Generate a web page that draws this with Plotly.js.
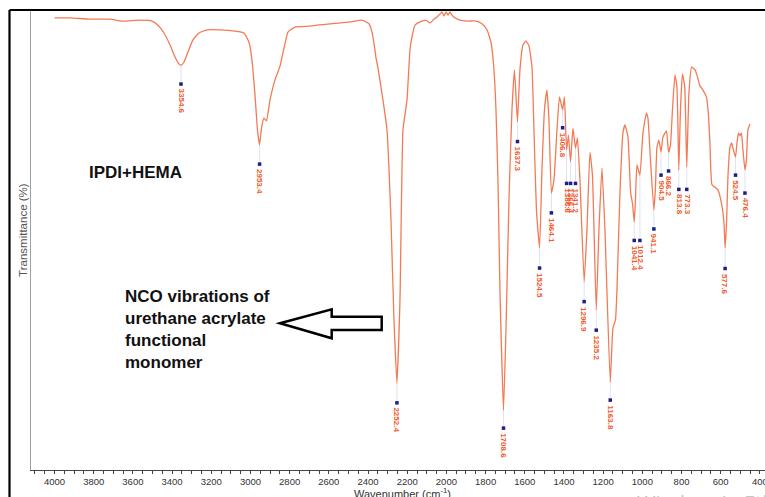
<!DOCTYPE html>
<html>
<head>
<meta charset="utf-8">
<script src="https://cdn.plot.ly/plotly-3.0.1.min.js"></script>
<style>
  html, body { margin: 0; padding: 0; background: #ffffff; }
  #chart { width: 765px; height: 497px; }
</style>
</head>
<body>
<div id="chart"></div>
<script>
// ---- Spectrum (IPDI+HEMA), wavenumber in cm-1, transmittance in % ----
const wavenumber = [4000, 3920.9, 3818.8, 3716.8, 3655.5, 3563.7, 3502.5, 3471.8, 3441.2, 3410.6,
  3385.1, 3364.7, 3354.6, 3339.2, 3318.8, 3293.2, 3262.6, 3221.8, 3155.5, 3078.9,
  3033.0, 3007.5, 2992.2, 2976.8, 2964.1, 2953.4, 2943.7, 2931.0, 2918.2, 2900.4,
  2874.8, 2849.3, 2828.9, 2808.5, 2772.7, 2696.2, 2594.1, 2492.1, 2430.8, 2395.1,
  2379.8, 2364.5, 2359.4, 2349.2, 2323.7, 2303.2, 2282.8, 2267.5, 2252.4, 2236.9,
  2221.6, 2201.2, 2185.9, 2175.7, 2160.4, 2134.9, 2104.2, 2083.8, 2063.4, 2048.1,
  2032.8, 2022.6, 2012.4, 2002.2, 1992.0, 1981.7, 1971.5, 1956.3, 1930.7, 1889.9,
  1849.1, 1818.5, 1792.9, 1772.5, 1757.2, 1747.0, 1736.8, 1726.6, 1708.6, 1696.0,
  1680.7, 1665.4, 1652.6, 1637.3, 1624.6, 1609.3, 1594.0, 1578.6, 1563.3, 1553.1,
  1540.4, 1524.5, 1512.3, 1499.5, 1486.8, 1476.6, 1464.1, 1451.1, 1435.7, 1423.0,
  1406.8, 1397.5, 1386.6, 1377.1, 1366.4, 1354.1, 1341.2, 1331.1, 1318.4, 1296.9,
  1282.7, 1267.3, 1254.6, 1235.2, 1221.4, 1206.1, 1190.8, 1163.8, 1150.0, 1137.2,
  1129.6, 1114.3, 1098.9, 1088.8, 1073.4, 1059.6, 1050.4, 1041.4, 1035.2, 1027.5,
  1012.4, 996.9, 979.1, 971.4, 958.6, 941.1, 933.1, 925.4, 915.3, 904.5,
  894.9, 876.9, 866.2, 856.5, 846.3, 833.6, 823.4, 813.8, 805.5, 795.3,
  783.6, 773.3, 762.2, 748.4, 731.5, 721.4, 706.1, 690.7, 672.9, 662.7,
  655.0, 644.8, 629.5, 614.2, 596.3, 583.6, 577.6, 569.8, 563.2, 552.9,
  544.3, 537.6, 524.5, 517.2, 509.6, 501.9, 494.3, 486.6, 476.4, 468.9,
  461.2, 450.9];

const transmittance = [98.3, 98.3, 98.0, 98.0, 97.6, 97.8, 97.6, 96.7, 95.0, 92.4,
  89.8, 88.3, 88.0, 88.7, 90.9, 93.5, 95.0, 95.7, 95.7, 95.4,
  95.0, 93.0, 89.1, 81.5, 73.9, 70.7, 74.3, 76.5, 75.9, 80.4,
  84.8, 87.8, 91.7, 95.2, 96.3, 96.5, 97.0, 97.4, 97.8, 97.0,
  95.2, 91.3, 89.6, 87.4, 80.4, 73.9, 54.3, 32.6, 18.9, 37.0,
  73.9, 80.4, 91.3, 94.1, 96.7, 97.4, 97.8, 97.2, 98.0, 98.5,
  99.1, 99.6, 98.7, 99.6, 98.9, 99.6, 98.9, 98.3, 97.8, 97.6,
  97.6, 97.0, 95.7, 93.0, 87.0, 78.3, 63.0, 39.1, 13.0, 30.4,
  58.7, 78.3, 87.0, 75.7, 87.0, 92.4, 93.3, 92.2, 87.6, 73.9,
  56.5, 48.3, 65.2, 78.3, 82.6, 76.1, 60.2, 63.0, 73.9, 81.1,
  78.3, 81.1, 69.6, 72.8, 67.0, 74.3, 70.0, 72.2, 63.0, 40.9,
  52.2, 69.1, 64.1, 34.8, 52.2, 65.7, 52.2, 19.1, 30.9, 32.6,
  39.1, 60.2, 73.3, 75.0, 72.4, 60.2, 58.0, 53.9, 58.7, 66.3,
  64.1, 73.3, 77.6, 76.5, 67.4, 56.5, 61.5, 70.2, 71.7, 69.1,
  72.4, 73.7, 69.1, 70.7, 78.3, 85.9, 83.3, 65.2, 78.3, 86.1,
  83.3, 65.9, 82.0, 87.6, 87.0, 85.9, 83.5, 82.6, 81.1, 77.2,
  71.1, 62.0, 61.5, 60.9, 58.0, 53.9, 48.3, 54.3, 63.7, 70.2,
  71.1, 70.0, 68.0, 71.1, 73.3, 72.6, 73.3, 69.6, 65.2, 67.4,
  73.9, 75.2];

// ---- Peak picks: wavenumber and the level of the marker under each peak ----
const peakWn = [3354.6, 2953.4, 2252.4, 1708.6, 1637.3, 1524.5, 1464.1, 1406.8, 1386.6, 1366.4,
  1341.2, 1296.9, 1235.2, 1163.8, 1041.4, 1012.4, 941.1, 904.5, 866.2, 813.8,
  773.3, 577.6, 524.5, 476.4];
const peakMarkT = [83.9, 66.5, 14.6, 9.1, 71.4, 43.9, 55.9, 74.4, 62.3, 62.3,
  62.3, 36.6, 30.4, 15.2, 49.9, 49.9, 52.4, 64.1, 65.0, 61.0,
  61.0, 43.8, 64.1, 60.2];
const peakLabels = peakWn.map(v => v.toFixed(1));

const sampleName = 'IPDI+HEMA';
const noteText = 'NCO vibrations of<br>urethane acrylate<br>functional<br>monomer';
const xTitle = 'Wavenumber (cm<sup>-1</sup>)';
const yTitle = 'Transmittance (%)';
const watermark = "Windows'u Etkinleştir";

// interpolate the spectrum at a wavenumber (for the leader lines)
function specAt(w) {
  for (let i = 0; i < wavenumber.length - 1; i++) {
    const a = wavenumber[i], b = wavenumber[i + 1];
    if (w <= a && w >= b) {
      const t = (a - w) / (a - b);
      return transmittance[i] + t * (transmittance[i + 1] - transmittance[i]);
    }
  }
  return null;
}

const leadX = [], leadY = [];
peakWn.forEach((w, i) => {
  leadX.push(w, w, null);
  leadY.push(specAt(w), peakMarkT[i], null);
});

const FONT = 'Arial, "Liberation Sans", Helvetica, sans-serif';
const LABEL_COLOR = '#EF5A2C';

const traces = [
  {
    x: leadX, y: leadY, mode: 'lines', type: 'scatter',
    line: { color: '#dfe2f0', width: 1 }, hoverinfo: 'skip', showlegend: false
  },
  {
    x: wavenumber, y: transmittance, mode: 'lines', type: 'scatter',
    line: { color: '#F37A55', width: 1.3, shape: 'spline', smoothing: 0.4 },
    showlegend: false
  },
  {
    x: peakWn, y: peakMarkT, mode: 'markers', type: 'scatter',
    marker: { symbol: 'square', size: 3.5, color: '#1c1f8a' },
    showlegend: false
  }
];

const annotations = peakWn.map((w, i) => ({
  x: w, y: peakMarkT[i], xref: 'x', yref: 'y',
  text: '<b>' + peakLabels[i] + '</b>',
  textangle: 90, showarrow: false,
  xanchor: 'center', yanchor: 'top', yshift: -3,
  font: { family: FONT, size: 8, color: LABEL_COLOR }
}));

annotations.push({
  xref: 'paper', yref: 'paper', x: 0.0763, y: 0.6478,
  xanchor: 'left', yanchor: 'middle', showarrow: false,
  text: '<b>' + sampleName + '</b>',
  font: { family: FONT, size: 17, color: '#111111' }
});
annotations.push({
  xref: 'paper', yref: 'paper', x: 0.1253, y: 0.3054,
  xanchor: 'left', yanchor: 'middle', align: 'left', showarrow: false,
  text: '<b>' + noteText + '</b>',
  font: { family: FONT, size: 17, color: '#111111' }
});
// y-axis title, placed just left of the axis line
annotations.push({
  xref: 'paper', yref: 'paper', x: -0.0109, y: 0.522,
  xanchor: 'center', yanchor: 'middle', showarrow: false, textangle: -90,
  text: yTitle,
  font: { family: FONT, size: 11.5, color: '#555555' }
});
// x-axis title, just under the tick labels
annotations.push({
  xref: 'paper', yref: 'paper', x: 0.5068, y: -0.0495,
  xanchor: 'center', yanchor: 'middle', showarrow: false,
  text: xTitle,
  font: { family: FONT, size: 11, color: '#333333' }
});
annotations.push({
  xref: 'paper', yref: 'paper', x: 0.8229, y: -0.037,
  xanchor: 'left', yanchor: 'top', showarrow: false,
  text: watermark,
  font: { family: '"Open Sans", "Noto Sans", sans-serif', size: 20, color: '#c6c6c6' }
});

const shapes = [
  // black frame (left and top edges)
  { type: 'line', xref: 'paper', yref: 'paper', x0: -0.0293, x1: -0.0293, y0: 1.0, y1: -0.07,
    line: { color: '#000000', width: 2.2 } },
  { type: 'line', xref: 'paper', yref: 'paper', x0: -0.0293, x1: 1.01, y0: 1.0, y1: 1.0,
    line: { color: '#000000', width: 2.2 } },
  // hollow arrow pointing at the NCO text
  { type: 'path', xref: 'paper', yref: 'paper',
    path: 'M 0.33924 0.31891 L 0.40967 0.34935 L 0.40967 0.33326 L 0.47779 0.33326 ' +
          'L 0.47779 0.30435 L 0.40967 0.30435 L 0.40967 0.28630 Z',
    fillcolor: '#ffffff', line: { color: '#000000', width: 2.5 } }
];

const layout = {
  width: 765, height: 497,
  margin: { l: 31, r: 0, t: 10, b: 27, pad: 0 },
  paper_bgcolor: '#ffffff', plot_bgcolor: '#ffffff',
  showlegend: false,
  font: { family: FONT, color: '#333333' },
  xaxis: {
    range: [4120, 374], autorange: false,
    showline: true, linecolor: '#444444', linewidth: 1,
    ticks: 'outside', ticklen: 3, tickcolor: '#444444', tickwidth: 1,
    tick0: 0, dtick: 200, ticklabeloverflow: 'allow',
    minor: { dtick: 50, tick0: 0, ticks: 'outside', ticklen: 2.5, tickcolor: '#444444', tickwidth: 1 },
    showgrid: false, zeroline: false,
    tickfont: { family: FONT, size: 9.5, color: '#333333' }
  },
  yaxis: {
    range: [0, 100], autorange: false,
    showline: true, linecolor: '#a0a0a0', linewidth: 1.5,
    showticklabels: false, ticks: '', showgrid: false, zeroline: false
  },
  annotations: annotations,
  shapes: shapes
};

Plotly.newPlot('chart', traces, layout, { staticPlot: true, displayModeBar: false });
</script>
</body>
</html>
